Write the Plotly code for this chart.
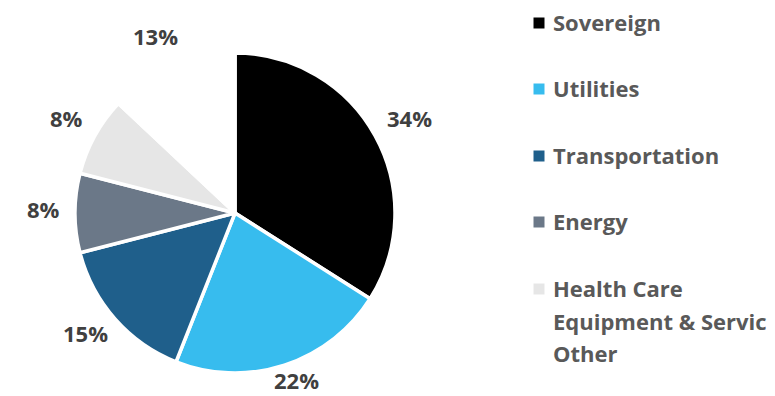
import math
import plotly.graph_objects as go

# Sector allocation
categories = ["Sovereign", "Utilities", "Transportation", "Energy",
              "Health Care Equipment & Services", "Other"]
values = [34, 22, 15, 8, 8, 13]
colors = ["#000000", "#37BCEE", "#1F5F8B", "#6B7888", "#E6E6E6", "#FFFFFF"]
# Legend text as it appears in the side panel (lines separated by <br>)
legend_labels = ["Sovereign", "Utilities", "Transportation", "Energy",
                 "Health Care<br>Equipment & Servic", "Other"]

W, H = 775, 396
CX, CY, R = 235, 213, 160   # pie centre and radius in pixels

fig = go.Figure(go.Pie(
    labels=categories,
    values=values,
    sort=False,
    direction="clockwise",
    rotation=0,
    marker=dict(colors=colors, line=dict(color="#FFFFFF", width=3.5)),
    textinfo="none",
    hoverinfo="label+percent",
    showlegend=False,
    domain=dict(x=[(CX - R) / W, (CX + R) / W],
                y=[(H - CY - R) / H, (H - CY + R) / H]),
))

annotations = []
shapes = []

# Percentage labels just outside each slice, placed at the slice's mid-angle
total = sum(values)
cum = 0
gap = 17
for v in values:
    mid = (cum + v / 2) / total * 2 * math.pi
    cum += v
    sx, sy = math.sin(mid), math.cos(mid)
    text = f"{round(v / total * 100)}%"
    hw = 7.5 * len(text)
    hh = 11
    px = CX + (R + gap) * sx + hw * sx
    py = CY - (R + gap) * sy - hh * sy - 4
    py = min(max(py, 16), H - 16)   # keep the label box inside the page
    annotations.append(dict(
        x=px / W, y=1 - py / H, xref="paper", yref="paper",
        text=f"<b>{text}</b>", showarrow=False,
        xanchor="center", yanchor="middle", borderpad=0,
        font=dict(family="Open Sans", size=22, color="#404040"),
    ))

# Side legend: square swatch plus bold label, wrapped lines 33 px apart
legend_y = [22, 88, 155, 221, 288, 353]
line_step = 33
sq = 11
for lab, col, ly in zip(legend_labels, colors, legend_y):
    shapes.append(dict(
        type="rect", xref="paper", yref="paper",
        x0=(539 - sq / 2) / W, x1=(539 + sq / 2) / W,
        y0=1 - (ly + 1 + sq / 2) / H, y1=1 - (ly + 1 - sq / 2) / H,
        fillcolor=col, line=dict(width=0),
    ))
    for k, line in enumerate(lab.split("<br>")):
        annotations.append(dict(
            x=551 / W, y=1 - (ly + k * line_step) / H,
            xref="paper", yref="paper",
            text=f"<b>{line}</b>", showarrow=False, align="left",
            xanchor="left", yanchor="middle",
            font=dict(family="Open Sans", size=22, color="#595959"),
        ))

fig.update_layout(
    width=W, height=H,
    margin=dict(l=0, r=0, t=0, b=0),
    paper_bgcolor="#FFFFFF", plot_bgcolor="#FFFFFF",
    annotations=annotations, shapes=shapes,
)

fig.write_html("out.html")
